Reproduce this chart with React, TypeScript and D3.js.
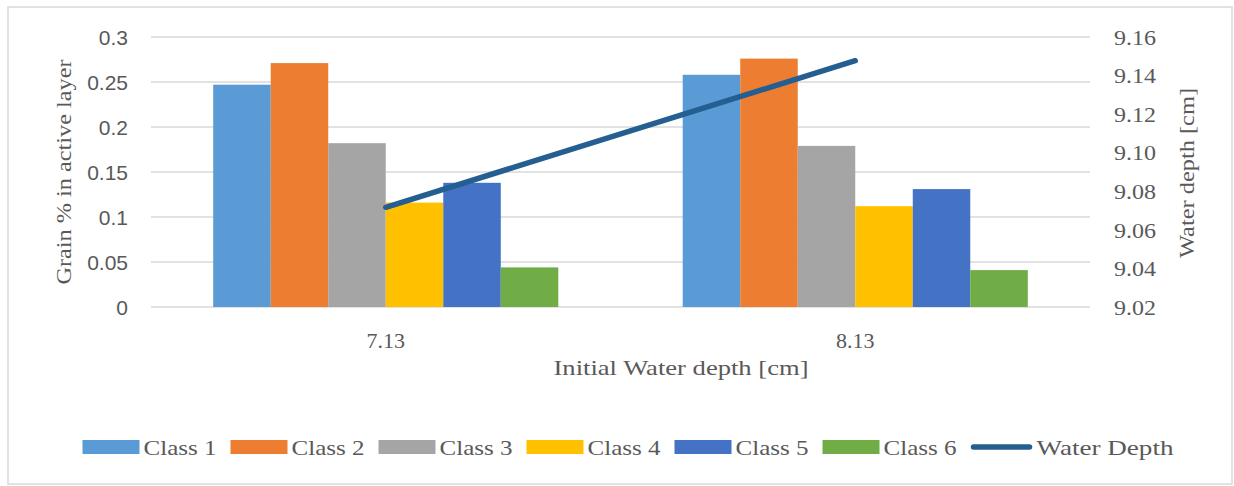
import React from "react";
import * as d3 from "d3";

// Initial water depth categories [cm]
const depths = ["7.13", "8.13"];
// Grain class names
const classes = ["Class 1", "Class 2", "Class 3", "Class 4", "Class 5", "Class 6"];
// Grain fraction in the active layer, per class, for each initial depth
const class1 = [0.247, 0.258];
const class2 = [0.271, 0.276];
const class3 = [0.182, 0.179];
const class4 = [0.116, 0.112];
const class5 = [0.138, 0.131];
const class6 = [0.044, 0.041];
// Resulting water depth [cm]
const waterDepth = [9.0717, 9.1477];
// Tick values
const leftTicks = [0, 0.05, 0.1, 0.15, 0.2, 0.25, 0.3];
const rightTicks = [9.02, 9.04, 9.06, 9.08, 9.1, 9.12, 9.14, 9.16];

const classValues = [class1, class2, class3, class4, class5, class6];
const classColors = ["#5B9BD5", "#ED7D31", "#A5A5A5", "#FFC000", "#4472C4", "#70AD47"];
const lineColor = "#255E91";

const W = 1234;
const H = 486;
const plot = { left: 151, right: 1090, top: 37, bottom: 307 };
const serif = "'Liberation Serif', 'Times New Roman', serif";
const sans = "'Liberation Sans', Arial, sans-serif";
const textGray = "#595959";

export default function App() {
  const x0 = d3
    .scaleBand<string>()
    .domain(depths)
    .range([plot.left, plot.right])
    .paddingInner(0.265)
    .paddingOuter(0.1325);
  const x1 = d3.scaleBand<string>().domain(classes).range([0, x0.bandwidth()]).padding(0);
  const yL = d3.scaleLinear().domain([0, 0.3]).range([plot.bottom, plot.top]);
  const yR = d3.scaleLinear().domain([9.02, 9.16]).range([plot.bottom, plot.top]);

  const line = d3
    .line<number>()
    .x((_, i) => (x0(depths[i]) as number) + x0.bandwidth() / 2)
    .y((v) => yR(v));

  const fmtL = (v: number) => (v === 0 ? "0" : String(+v.toFixed(2)));
  const fmtR = d3.format(".2f");

  // legend layout
  const swW = 57;
  const swGap = 4;
  const labelW = 73;
  const itemGap = 14;
  const lineLabelW = 137;
  const legendTotal = classes.length * (swW + swGap + labelW + itemGap) + 62 + swGap + lineLabelW;
  const legendStart = 628 - legendTotal / 2;
  const legendY = 447;

  return (
    <svg
      width={W}
      height={H}
      style={{ position: "absolute", left: 0, top: 0, background: "#fff" }}
    >
      <rect x={8} y={7} width={1224} height={477} fill="#fff" stroke="#D9D9D9" strokeWidth={1.5} />

      {/* gridlines */}
      {leftTicks.map((t) => (
        <line
          key={"g" + t}
          x1={plot.left}
          x2={plot.right}
          y1={yL(t)}
          y2={yL(t)}
          stroke="#D9D9D9"
          strokeWidth={1.5}
        />
      ))}

      {/* bars */}
      {depths.map((d, di) => (
        <g key={d} transform={`translate(${x0(d)},0)`}>
          {classes.map((c, ci) => {
            const v = classValues[ci][di];
            return (
              <rect
                key={c}
                x={x1(c)}
                y={yL(v)}
                width={x1.bandwidth()}
                height={yL(0) - yL(v)}
                fill={classColors[ci]}
              />
            );
          })}
        </g>
      ))}

      {/* water depth line */}
      <path
        d={line(waterDepth) || ""}
        fill="none"
        stroke={lineColor}
        strokeWidth={5.5}
        strokeLinecap="round"
      />

      {/* left axis labels */}
      {leftTicks.map((t) => (
        <text
          key={"l" + t}
          x={128}
          y={yL(t)}
          dy="0.36em"
          textAnchor="end"
          fontFamily={sans}
          fontSize={21}
          fill={textGray}
        >
          {fmtL(t)}
        </text>
      ))}

      {/* right axis labels */}
      {rightTicks.map((t) => (
        <text
          key={"r" + t}
          x={1114}
          y={yR(t)}
          dy="0.35em"
          textAnchor="start"
          fontFamily={serif}
          fontSize={22}
          fill={textGray}
          textLength={42}
          lengthAdjust="spacingAndGlyphs"
        >
          {fmtR(t)}
        </text>
      ))}

      {/* category labels */}
      {depths.map((d) => (
        <text
          key={"c" + d}
          x={(x0(d) as number) + x0.bandwidth() / 2}
          y={340}
          dy="0.35em"
          textAnchor="middle"
          fontFamily={serif}
          fontSize={22}
          fill={textGray}
        >
          {d}
        </text>
      ))}

      {/* axis titles */}
      <text
        x={681}
        y={367}
        dy="0.35em"
        textAnchor="middle"
        fontFamily={serif}
        fontSize={22}
        fill={textGray}
        textLength={255}
        lengthAdjust="spacingAndGlyphs"
      >
        Initial Water depth [cm]
      </text>
      <text
        transform="translate(63,172) rotate(-90)"
        textAnchor="middle"
        dy="0.35em"
        fontFamily={serif}
        fontSize={22}
        fill={textGray}
        textLength={225}
        lengthAdjust="spacingAndGlyphs"
      >
        Grain %  in active layer
      </text>
      <text
        transform="translate(1186,173) rotate(-90)"
        textAnchor="middle"
        dy="0.35em"
        fontFamily={serif}
        fontSize={22}
        fill={textGray}
        textLength={170}
        lengthAdjust="spacingAndGlyphs"
      >
        Water depth [cm]
      </text>

      {/* legend */}
      {classes.map((c, ci) => {
        const lx = legendStart + ci * (swW + swGap + labelW + itemGap);
        return (
          <g key={"lg" + c}>
            <rect x={lx} y={legendY - 7} width={swW} height={14} fill={classColors[ci]} />
            <text
              x={lx + swW + swGap}
              y={legendY}
              dy="0.35em"
              fontFamily={serif}
              fontSize={22}
              fill={textGray}
              textLength={labelW}
              lengthAdjust="spacingAndGlyphs"
            >
              {c}
            </text>
          </g>
        );
      })}
      {(() => {
        const lx = legendStart + classes.length * (swW + swGap + labelW + itemGap);
        return (
          <g>
            <line
              x1={lx + 3}
              x2={lx + 59}
              y1={legendY}
              y2={legendY}
              stroke={lineColor}
              strokeWidth={5.5}
              strokeLinecap="round"
            />
            <text
              x={lx + 62 + swGap}
              y={legendY}
              dy="0.35em"
              fontFamily={serif}
              fontSize={22}
              fill={textGray}
              textLength={lineLabelW}
              lengthAdjust="spacingAndGlyphs"
            >
              Water Depth
            </text>
          </g>
        );
      })()}
    </svg>
  );
}
